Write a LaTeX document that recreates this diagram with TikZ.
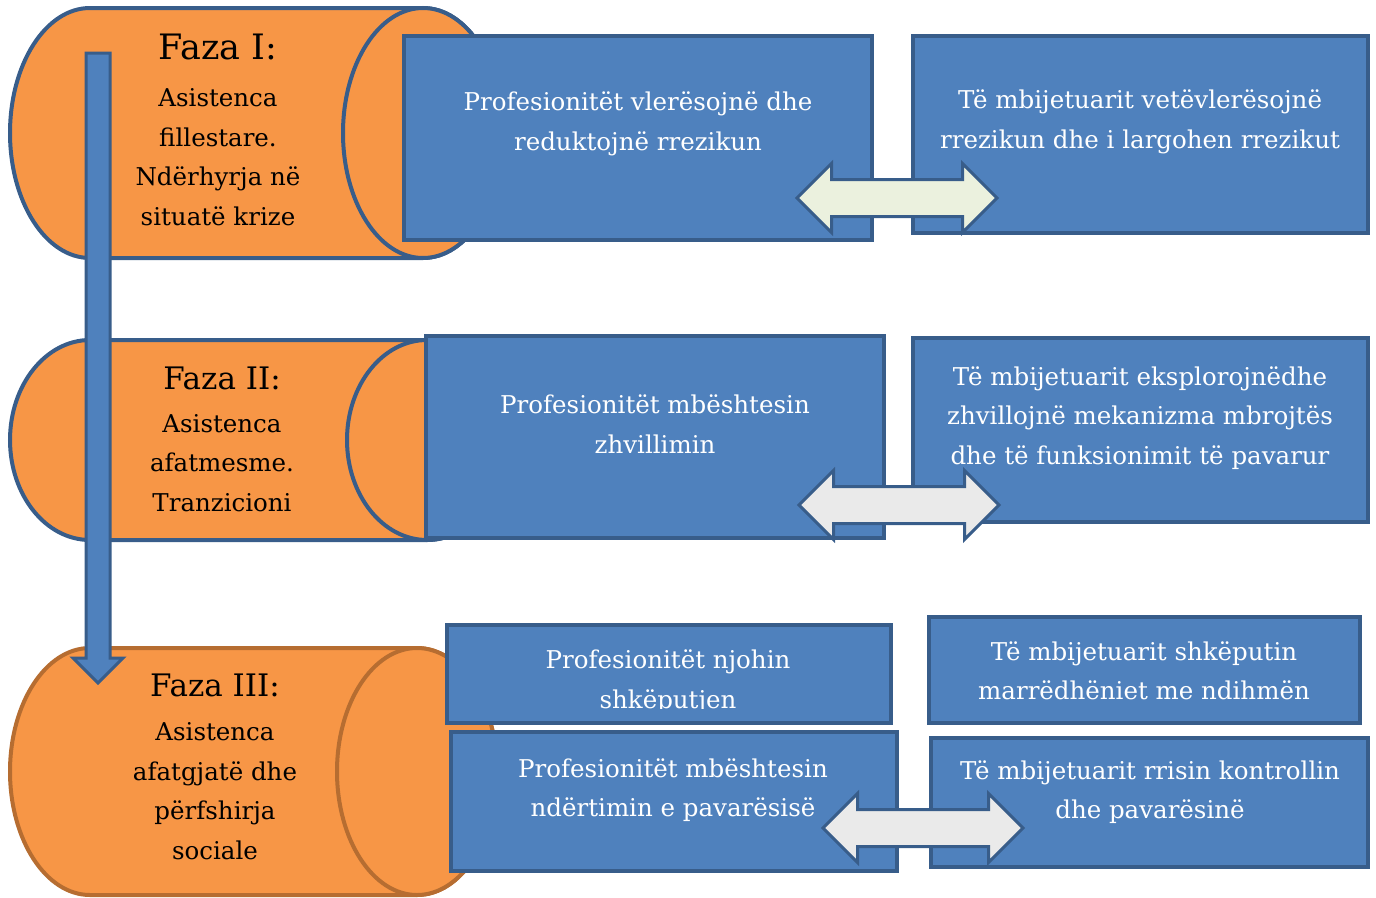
\documentclass[tikz,border=0pt]{standalone}
\usepackage{fontspec}
\setmainfont{DejaVu Serif}
\usepackage{tikz}
\usetikzlibrary{shapes.arrows,positioning}

\definecolor{orfill}{HTML}{F79646}
\definecolor{bluline}{HTML}{385D8A}
\definecolor{orline}{HTML}{B66D31}
\definecolor{boxfill}{HTML}{4F81BD}
\definecolor{greenish}{HTML}{EBF1DE}
\definecolor{greyish}{HTML}{EAEAEA}

\begin{document}
\begin{tikzpicture}[
		x=1pt,
		y=-1pt,
		cyl/.style={fill=orfill, draw=bluline, line width=4pt},
		phase/.style={align=center, font=\fontsize{24.5}{39.5}\selectfont},
		phasetitle/.style={font=\fontsize{31}{36}\selectfont},
		box/.style={rectangle, fill=boxfill, draw=bluline, line width=3.5pt, inner sep=0pt},
		boxtext/.style={align=center, text=white, font=\fontsize{24.5}{39.5}\selectfont},
		twoway/.style={double arrow, draw=bluline, line width=3pt, inner xsep=0pt, inner ysep=17pt,
			minimum height=200pt, double arrow head extend=16pt},
		flow/.style={single arrow, fill=boxfill, draw=bluline, line width=3pt, inner xsep=0pt, inner ysep=10.5pt,
			minimum height=630pt, single arrow head extend=13pt, rotate=-90}
	]
	\useasboundingbox (0,0) rectangle (1376,897);

	% the three phases
	\path[cyl] (90,8) -- (423,8) arc[start angle=-90, end angle=90, x radius=80, y radius=125]
		-- (90,258) arc[start angle=90, end angle=270, x radius=80, y radius=125] -- cycle;
	\draw[cyl] (423,133) ellipse [x radius=80, y radius=125];

	\path[cyl] (90,340) -- (427,340) arc[start angle=-90, end angle=90, x radius=80, y radius=100]
		-- (90,540) arc[start angle=90, end angle=270, x radius=80, y radius=100] -- cycle;
	\draw[cyl] (427,440) ellipse [x radius=80, y radius=100];

	\path[cyl, draw=orline] (90,648) -- (417,648) arc[start angle=-90, end angle=90, x radius=80, y radius=123.5]
		-- (90,895) arc[start angle=90, end angle=270, x radius=80, y radius=123.5] -- cycle;
	\draw[cyl, draw=orline] (417,771.5) ellipse [x radius=80, y radius=123.5];

	\node[phasetitle, font=\fontsize{35}{40}\selectfont] (t1) at (218,47) {Faza I:};
	\node[phase] (p1) at (218,157) {Asistenca\\fillestare.\\Ndërhyrja në\\situatë krize};
	\node[phasetitle] (t2) at (222,378) {Faza II:};
	\node[phase] (p2) at (222,463) {Asistenca\\afatmesme.\\Tranzicioni};
	\node[phasetitle] (t3) at (215,685) {Faza III:};
	\node[phase] (p3) at (215,791) {Asistenca\\afatgjatë dhe\\përfshirja\\sociale};

	\node[flow] (fall) at (98,362) {};

	% professionals and survivors
	\node[box, minimum width=468pt, minimum height=204pt] (prof1) at (638,138) {};
	\node[boxtext] (prof1txt) at (638,124) {Profesionitët vlerësojnë dhe\\reduktojnë rrezikun};
	\node[box, minimum width=455pt, minimum height=197pt] (surv1) at (1140.5,134.5) {};
	\node[boxtext] (surv1txt) at (1140,122) {Të mbijetuarit vetëvlerësojnë\\rrezikun dhe i largohen rrezikut};

	\node[box, minimum width=458pt, minimum height=202pt] (prof2) at (655,437) {};
	\node[boxtext] (prof2txt) at (655,424) {Profesionitët mbështesin\\zhvillimin};
	\node[box, minimum width=455pt, minimum height=184pt] (surv2) at (1140.5,430) {};
	\node[boxtext] (surv2txt) at (1140,418) {Të mbijetuarit eksplorojnëdhe\\zhvillojnë mekanizma mbrojtës\\dhe të funksionimit të pavarur};

	\node[box, minimum width=444pt, minimum height=98pt] (prof3) at (669,674) {};
	\begin{scope}
		\clip (447,625) rectangle (891,708);
		\node[boxtext] (prof3txt) at (668,682) {Profesionitët njohin\\shkëputjen};
	\end{scope}
	\node[box, minimum width=431pt, minimum height=106pt] (surv3) at (1144.5,670) {};
	\node[boxtext] (surv3txt) at (1144,671) {Të mbijetuarit shkëputin\\marrëdhëniet me ndihmën};

	\node[box, minimum width=446pt, minimum height=139pt] (prof4) at (674,801.5) {};
	\node[boxtext] (prof4txt) at (673,790) {Profesionitët mbështesin\\ndërtimin e pavarësisë};
	\node[box, minimum width=437pt, minimum height=129pt] (surv4) at (1149.5,802.5) {};
	\node[boxtext] (surv4txt) at (1150,792) {Të mbijetuarit rrisin kontrollin\\dhe pavarësinë};

	% two-way links
	\node[twoway, fill=greenish] (link1) at (897,198) {};
	\node[twoway, fill=greyish] (link2) at (899,505) {};
	\node[twoway, fill=greyish] (link3) at (923,828) {};
\end{tikzpicture}
\end{document}
